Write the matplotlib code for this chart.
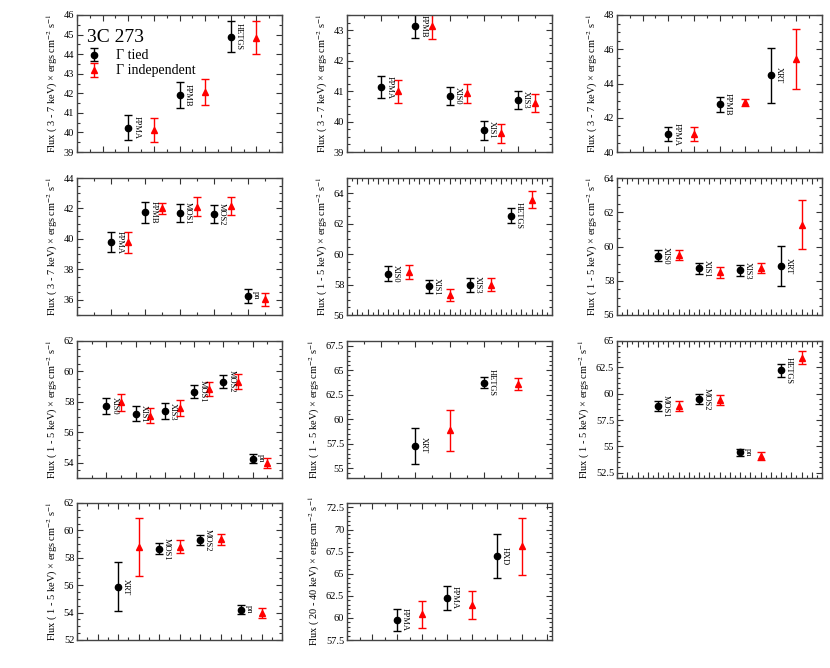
import numpy as np
import matplotlib
matplotlib.use("Agg")
import matplotlib.pyplot as plt
from matplotlib.ticker import MultipleLocator, FormatStrFormatter

plt.rcParams['font.family'] = ['Liberation Serif', 'DejaVu Serif']
plt.rcParams['mathtext.fontset'] = 'stix'

# ---------------- data ----------------
band_37 = "Flux ( 3 - 7 keV) × ergs cm$^{-2}$ s$^{-1}$"
band_15 = "Flux ( 1 - 5 keV) × ergs cm$^{-2}$ s$^{-1}$"
band_2040 = "Flux ( 20 - 40 keV) × ergs cm$^{-2}$ s$^{-1}$"

p1_labels = ["FPMA", "FPMB", "HETGS"]
p1_tied = [40.25, 41.92, 44.89]
p1_tied_err = [0.64, 0.66, 0.78]
p1_ind = [40.12, 42.06, 44.85]
p1_ind_err = [0.62, 0.67, 0.86]

p2_labels = ["FPMA", "FPMB", "XIS0", "XIS1", "XIS3"]
p2_tied = [41.12, 43.14, 40.84, 39.72, 40.70]
p2_tied_err = [0.36, 0.38, 0.31, 0.31, 0.30]
p2_ind = [41.00, 43.14, 40.93, 39.61, 40.62]
p2_ind_err = [0.38, 0.42, 0.31, 0.30, 0.30]

p3_labels = ["FPMA", "FPMB", "XRT"]
p3_tied = [41.04, 42.78, 44.49]
p3_tied_err = [0.40, 0.45, 1.60]
p3_ind = [41.04, 42.90, 45.41]
p3_ind_err = [0.42, 0.22, 1.75]

p4_labels = ["FPMA", "FPMB", "MOS1", "MOS2", "pn"]
p4_tied = [39.78, 41.75, 41.68, 41.65, 36.27]
p4_tied_err = [0.67, 0.69, 0.58, 0.60, 0.45]
p4_ind = [39.78, 42.00, 42.12, 42.15, 36.02]
p4_ind_err = [0.68, 0.36, 0.60, 0.60, 0.44]

p5_labels = ["XIS0", "XIS1", "XIS3", "HETGS"]
p5_tied = [58.72, 57.88, 57.98, 62.52]
p5_tied_err = [0.47, 0.42, 0.45, 0.50]
p5_ind = [58.82, 57.32, 57.98, 63.57]
p5_ind_err = [0.47, 0.42, 0.43, 0.57]

p6_labels = ["XIS0", "XIS1", "XIS3", "XRT"]
p6_tied = [59.46, 58.72, 58.60, 58.86]
p6_tied_err = [0.33, 0.32, 0.32, 1.15]
p6_ind = [59.50, 58.50, 58.74, 61.28]
p6_ind_err = [0.31, 0.32, 0.30, 1.43]

p7_labels = ["XIS0", "XIS1", "XIS3", "MOS1", "MOS2", "pn"]
p7_tied = [57.71, 57.22, 57.38, 58.67, 59.33, 54.28]
p7_tied_err = [0.53, 0.48, 0.53, 0.43, 0.45, 0.30]
p7_ind = [57.98, 57.10, 57.58, 58.84, 59.33, 53.98]
p7_ind_err = [0.55, 0.50, 0.52, 0.45, 0.47, 0.33]

p8_labels = ["XRT", "HETGS"]
p8_tied = [57.31, 63.74]
p8_tied_err = [1.85, 0.57]
p8_ind = [58.90, 63.60]
p8_ind_err = [2.10, 0.60]

p9_labels = ["MOS1", "MOS2", "pn", "HETGS"]
p9_tied = [58.83, 59.50, 54.43, 62.22]
p9_tied_err = [0.45, 0.47, 0.32, 0.63]
p9_ind = [58.86, 59.40, 54.10, 63.42]
p9_ind_err = [0.47, 0.47, 0.40, 0.60]

p10_labels = ["XRT", "MOS1", "MOS2", "pn"]
p10_tied = [55.89, 58.65, 59.30, 54.22]
p10_tied_err = [1.80, 0.40, 0.40, 0.30]
p10_ind = [58.80, 58.82, 59.34, 53.97]
p10_ind_err = [2.12, 0.47, 0.43, 0.38]

p11_labels = ["FPMA", "FPMA", "HXD"]
p11_tied = [59.79, 62.26, 67.02]
p11_tied_err = [1.24, 1.37, 2.45]
p11_ind = [60.40, 61.43, 68.08]
p11_ind_err = [1.50, 1.56, 3.27]

# ---------------- layout / style ----------------
panels = [
    # data, ylabel, ylim, ymajor, yminor, xmax, xtick
    (p1_labels, p1_tied, p1_tied_err, p1_ind, p1_ind_err, band_37, (39, 46), 1, 0.5, 8, 0.5),
    (p2_labels, p2_tied, p2_tied_err, p2_ind, p2_ind_err, band_37, (39, 43.5), 1, 0.25, 12, 1),
    (p3_labels, p3_tied, p3_tied_err, p3_ind, p3_ind_err, band_37, (40, 48), 2, 0.5, 8, 0.5),
    (p4_labels, p4_tied, p4_tied_err, p4_ind, p4_ind_err, band_37, (35, 44), 2, 0.5, 12, 1),
    (p5_labels, p5_tied, p5_tied_err, p5_ind, p5_ind_err, band_15, (56, 65), 2, 0.5, 10, 0.25),
    (p6_labels, p6_tied, p6_tied_err, p6_ind, p6_ind_err, band_15, (56, 64), 2, 0.5, 10, 0.25),
    (p7_labels, p7_tied, p7_tied_err, p7_ind, p7_ind_err, band_15, (53, 62), 2, 0.5, 14, 1),
    (p8_labels, p8_tied, p8_tied_err, p8_ind, p8_ind_err, band_15, (54, 68), 2.5, 0.5, 6, 0.5),
    (p9_labels, p9_tied, p9_tied_err, p9_ind, p9_ind_err, band_15, (52, 65), 2.5, 0.5, 10, 0.25),
    (p10_labels, p10_tied, p10_tied_err, p10_ind, p10_ind_err, band_15, (52, 62), 2, 0.5, 10, 0.5),
    (p11_labels, p11_tied, p11_tied_err, p11_ind, p11_ind_err, band_2040, (57.5, 73), 2.5, 0.5, 8.2, 0.5),
]

W, H = 830, 668
fig = plt.figure(figsize=(W / 100, H / 100), dpi=100)

col_left = [77, 347, 617]
row_top = [15, 178, 341, 503]
aw, ah = 205, 137

for i, (labels, tied, terr, ind, ierr, ylab, ylim, ymaj, ymin, xmax, xt) in enumerate(panels):
    r, c = divmod(i, 3)
    left = col_left[c] / W
    bottom = 1 - (row_top[r] + ah) / H
    ax = fig.add_axes([left, bottom, aw / W, ah / H])
    n = len(labels)
    xt_pos = 2 + 2 * np.arange(n)
    xi_pos = xt_pos + 1
    h1 = ax.errorbar(xt_pos, tied, yerr=terr, fmt='o', color='black', ms=4.5,
                     capsize=3, elinewidth=1.0, capthick=1.0)
    h2 = ax.errorbar(xi_pos, ind, yerr=ierr, fmt='^', color='#ff0000', ms=4.5,
                     capsize=3, elinewidth=1.0, capthick=1.0)
    for x, y, lab in zip(xt_pos, tied, labels):
        ax.annotate(lab, (x, y), xytext=(3, 0), textcoords='offset points',
                    rotation=-90, ha='left', va='center', fontsize=6)
    ax.set_xlim(0, xmax)
    ax.set_ylim(*ylim)
    ax.xaxis.set_major_locator(MultipleLocator(xt * 2))
    ax.xaxis.set_minor_locator(MultipleLocator(xt))
    ax.yaxis.set_major_locator(MultipleLocator(ymaj))
    ax.yaxis.set_minor_locator(MultipleLocator(ymin))
    ax.yaxis.set_major_formatter(FormatStrFormatter('%g'))
    ax.set_xticklabels([])
    ax.tick_params(which='both', direction='in', top=True, right=True, width=0.8,
                   labelsize=7.5, pad=2, color='#333333')
    ax.tick_params(which='major', length=4)
    ax.tick_params(which='minor', length=2)
    for s in ax.spines.values():
        s.set_linewidth(1.0)
        s.set_color('#444444')
    ax.set_ylabel(ylab, fontsize=7.5, labelpad=3)
    if i == 0:
        ax.text(0.05, 0.835, "3C 273", transform=ax.transAxes, fontsize=14,
                ha='left', va='center')
        ax.legend([h1, h2], ["Γ tied", "Γ independent"], loc='upper left',
                  bbox_to_anchor=(0.0, 0.81), frameon=False, fontsize=10,
                  handlelength=1.2, handletextpad=1.0, borderaxespad=0.2,
                  labelspacing=0.15)

fig.savefig("out.png", dpi=100)
